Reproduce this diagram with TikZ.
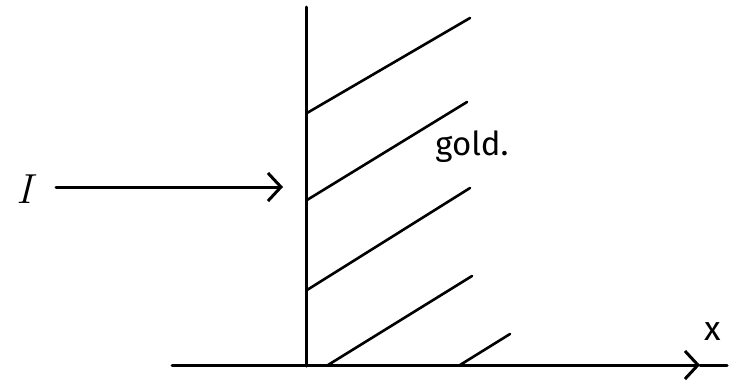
\documentclass[tikz,border=0pt]{standalone}
\usepackage{fontspec}
\setsansfont{Fira Sans}
\usetikzlibrary{arrows.meta}
\tikzset{
  ink/.style={line width=3pt, line cap=round, black},
  hatch/.style={line width=2.6pt, line cap=round, black},
  barb/.style={-{Straight Barb[length=13pt,width=28pt,line width=3pt]}},
  lbl/.style={inner sep=0pt}
}
\begin{document}
\begin{tikzpicture}[x=1pt,y=-1pt]
\useasboundingbox (0,0) rectangle (746,383);
% named points
\coordinate (vtop) at (306,7);
\coordinate (vbot) at (306,366);
\coordinate (xl) at (172,365);
\coordinate (xtip) at (700,365);
\coordinate (xend) at (727,365);
\coordinate (ista) at (56,187);
\coordinate (iend) at (283,187);
% walls and axis
\draw[ink] (vtop) -- (vbot);
\draw[ink,barb] (xl) -- (xtip);
\draw[ink] (xtip) -- (xend);
\draw[ink,barb] (ista) -- (iend);
% hatch lines
\coordinate (h1a) at (307,113); \coordinate (h1b) at (470,18);
\coordinate (h2a) at (307,200); \coordinate (h2b) at (467,102);
\coordinate (h3a) at (307,290); \coordinate (h3b) at (470,188);
\coordinate (h4a) at (328,365); \coordinate (h4b) at (472,276);
\coordinate (h5a) at (460,365); \coordinate (h5b) at (510,334);
\draw[hatch] (h1a) -- (h1b);
\draw[hatch] (h2a) -- (h2b);
\draw[hatch] (h3a) -- (h3b);
\draw[hatch] (h4a) -- (h4b);
\draw[hatch] (h5a) -- (h5b);
% labels
\node[lbl, font=\rmfamily\itshape\fontsize{42}{46}\selectfont] (I) at (24,189) {I};
\node[lbl, font=\sffamily\fontsize{33}{37}\selectfont] (gold) at (472,147) {gold.};
\node[lbl, font=\sffamily\fontsize{34}{38}\selectfont] (x) at (713,332) {x};
\end{tikzpicture}
\end{document}
